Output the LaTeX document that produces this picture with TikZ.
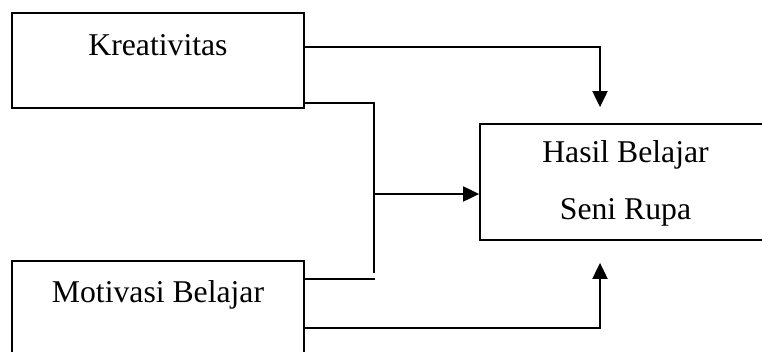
\documentclass[tikz,border=0pt]{standalone}
\usepackage{fontspec}
\setmainfont{Liberation Serif}
\usetikzlibrary{arrows.meta}
\begin{document}
\begin{tikzpicture}[x=1pt,y=-1pt,
  box/.style={draw,line width=1.8pt,rectangle,inner sep=0pt},
  lbl/.style={font=\fontsize{31.7}{36}\selectfont,inner sep=0pt},
  link/.style={line width=2pt},
  arr/.style={link,-{Triangle[length=16pt,width=15pt]}}]
\useasboundingbox (0,0) rectangle (762,351);
\clip (0,0) rectangle (762,351);
% boxes
\node[box,minimum width=292pt,minimum height=95pt] (kre) at (158,60.5) {};
\node[lbl] (kretext) at (158,45) {Kreativitas};
\node[box,minimum width=292pt,minimum height=110pt] (mot) at (158,316) {};
\node[lbl] (mottext) at (158,295) {Motivasi Belajar};
\node[box,minimum width=300pt,minimum height=116pt] (has) at (630,182) {};
\node[lbl] (hastext1) at (625.5,155) {Hasil Belajar};
\node[lbl] (hastext2) at (625.5,212) {Seni Rupa};
% junction points
\coordinate (tj) at (600,47);
\coordinate (bj) at (600,328);
\coordinate (mj) at (374,194);
% direct paths
\draw[arr,shorten >=16pt] (kre.east |- tj) -- (tj) -- (tj |- has.north);
\draw[arr,shorten >=22pt] (mot.east |- bj) -- (bj) -- (bj |- has.south);
% joint path
\draw[link] (kre.east |- 0,103) -| (374,273);
\draw[link] (mot.east |- 0,279) -- (375,279);
\draw[arr] (mj) -- (mj -| has.west);
\end{tikzpicture}
\end{document}
